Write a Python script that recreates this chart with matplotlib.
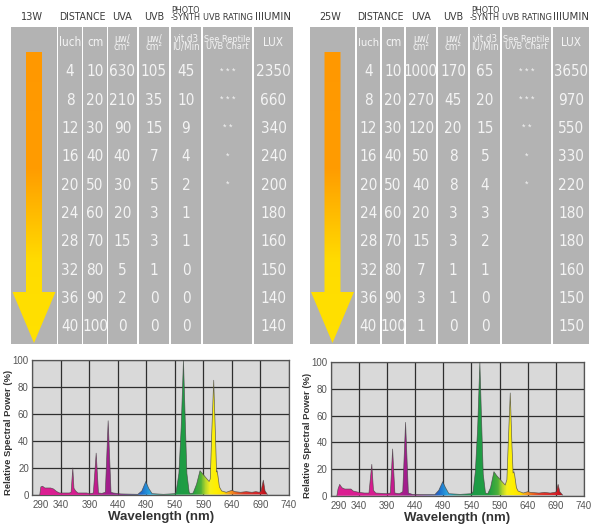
import os
import numpy as np
import matplotlib
matplotlib.use("Agg")
import matplotlib.pyplot as plt
from matplotlib.patches import Rectangle, Polygon
from matplotlib.colors import LinearSegmentedColormap
from matplotlib import font_manager
from matplotlib.font_manager import FontProperties

# ---------------- data ----------------
luch = [4, 8, 12, 16, 20, 24, 28, 32, 36, 40]
cm_dist = [10, 20, 30, 40, 50, 60, 70, 80, 90, 100]

uva_13 = [630, 210, 90, 40, 30, 20, 15, 5, 2, 0]
uvb_13 = [105, 35, 15, 7, 5, 3, 3, 1, 0, 0]
vitd_13 = [45, 10, 9, 4, 2, 1, 1, 0, 0, 0]
rating_13 = ["* * *", "* * *", "* *", "*", "*", "", "", "", "", ""]
lux_13 = [2350, 660, 340, 240, 200, 180, 160, 150, 140, 140]

uva_25 = [1000, 270, 120, 50, 40, 20, 15, 7, 3, 1]
uvb_25 = [170, 45, 20, 8, 8, 3, 3, 1, 1, 0]
vitd_25 = [65, 20, 15, 5, 4, 3, 2, 1, 0, 0]
rating_25 = ["* * *", "* * *", "* *", "*", "*", "", "", "", "", ""]
lux_25 = [3650, 970, 550, 330, 220, 180, 180, 160, 150, 150]

headers = ["DISTANCE", "UVA", "UVB", "PHOTO\n-SYNTH", "UVB RATING", "IIIUMIN"]
units = ["luch", "cm", "μw/\ncm²", "μw/\ncm²", "vit.d3\nIU/Min", "See Reptile\nUVB Chart", "LUX"]

wl_13 = [303, 305, 308, 312, 322, 327, 333, 338, 355, 358, 361, 363, 366, 370, 385, 392,
         397, 402, 406, 412, 418, 423, 428, 432, 445, 475, 482, 489, 494, 500, 520, 540,
         542, 547, 551, 555, 558.5, 561, 565, 567, 572, 578, 584, 588, 600, 602, 604.5, 608,
         611, 613, 614, 615.5, 618, 622, 630, 640, 645, 655, 665, 675, 682, 688, 691,
         695, 698, 702]
pw_13 = [0, 6, 6.5, 5.2, 5.2, 4.5, 2.5, 1.5, 1.5, 2, 20, 5, 3, 1.5, 1.5, 1,
         1.5, 31, 1.5, 1.2, 2, 55, 2, 1.5, 0.8, 0.5, 3, 10, 5, 1, 0.5, 1,
         2, 16, 50, 100, 50, 16, 2, 1, 1.5, 8, 18, 16, 10, 12, 45, 85,
         45, 17, 18, 14, 6, 3, 2, 3.5, 2.5, 2, 2.5, 2, 2.5, 2, 3,
         11, 3, 0.5]

wl_25 = [301, 303, 306, 310, 315, 326, 330, 340, 350, 358, 363, 366, 370, 390, 396,
         400, 404, 412, 418, 423, 428, 435, 450, 475, 482, 489, 494, 500, 520, 540,
         543, 547, 551, 555, 558.5, 561, 565, 569, 574, 580, 585, 600, 603, 605.5, 609,
         612, 614, 615.5, 617, 620, 623, 632, 640, 645, 660, 670, 680, 688, 691, 694,
         697, 702]
pw_25 = [0, 5, 8.5, 6, 5, 5, 3.5, 2.5, 2, 2, 23.5, 4, 2, 1.5, 2,
         35, 2, 1.5, 3, 55, 2, 1, 0.8, 0.8, 4, 10.5, 6, 1.5, 1, 1.5,
         3, 18, 50, 100, 50, 16, 2, 1.5, 6, 18, 15, 8, 12, 40, 77,
         38, 17, 18, 15, 6, 3.5, 2, 3, 2.5, 2, 2.5, 2, 2.5, 3, 8.5,
         3, 0.5]

x_ticks = [290, 340, 390, 440, 490, 540, 590, 640, 690, 740]
y_ticks = [0, 20, 40, 60, 80, 100]

# ---------------- fonts ----------------
avail = {f.name for f in font_manager.fontManager.ttflist}
sans = "Liberation Sans" if "Liberation Sans" in avail else "DejaVu Sans"


def find_condensed():
    prefs = ["LiberationSansNarrow-Regular", "DejaVuSansCondensed.", "NotoSans-Condensed.",
             "NotoSans-SemiCondensed.", "OpenSans-CondensedRegular", "OpenSans_Condensed-Regular",
             "RobotoCondensed-Regular", "Roboto_Condensed-Regular", "OpenSans-SemiCondensed"]
    files = [f.fname for f in font_manager.fontManager.ttflist]
    for p in prefs:
        for fn in files:
            if os.path.basename(fn).startswith(p):
                return FontProperties(fname=fn)
    for f in font_manager.fontManager.ttflist:
        nm = (f.name + os.path.basename(f.fname)).lower()
        if ("condensed" in nm or "narrow" in nm or f.stretch in ("condensed", "semi-condensed")) \
                and f.style == "normal" and f.weight in (400, "normal", "regular") \
                and "bold" not in nm and "light" not in nm:
            return FontProperties(fname=f.fname)
    return FontProperties(family=sans)


COND = find_condensed()

GRAY = "#b3b3b3"
TXT = "#f4f4f4"
HDR = "#3a3a3a"

fig = plt.figure(figsize=(6, 5.28), dpi=100)
fig.patch.set_facecolor("white")
bg = fig.add_axes([0, 0, 1, 1])
bg.set_xlim(0, 600)
bg.set_ylim(528, 0)
bg.axis("off")

fit_list = []


def ctext(x, y, s, size, color, maxw, **kw):
    fp = COND.copy()
    fp.set_size(size)
    t = bg.text(x, y, s, ha="center", va="center", color=color, fontproperties=fp, **kw)
    fit_list.append((t, maxw))
    return t


arrow_cmap = LinearSegmentedColormap.from_list(
    "arr", [(0.0, "#ff9800"), (0.4, "#ff9c00"), (0.6, "#ffc400"), (0.72, "#ffdc00"), (1.0, "#ffe100")])


def draw_table(cols, watt, uva, uvb, vitd, rating, lux):
    top, bot = 27, 344
    for (a, b) in cols:
        bg.add_patch(Rectangle((a, top), b - a, bot - top, facecolor=GRAY, edgecolor="none"))
    cx = [(a + b) / 2 for a, b in cols]
    cw = [b - a for a, b in cols]
    # header
    ctext(cx[0] - 2, 17.5, watt, 9, HDR, 22)
    hx = [(cols[1][0] + cols[2][1]) / 2, cx[3], cx[4], cx[5], cx[6], cx[7]]
    hw = [47, 20, 20, 31, 50, 36]
    for h, x, w in zip(headers, hx, hw):
        if "\n" in h:
            ctext(x, 14, h, 6.5, HDR, w, linespacing=0.85)
        else:
            ctext(x, 17.5, h, 9, HDR, w)
    # units
    for u, x, w in zip(units, cx[1:], cw[1:]):
        if "\n" in u:
            ctext(x, 43, u, 7, TXT, w - 2, linespacing=0.85)
        else:
            ctext(x, 43, u, 8.5, TXT, w - 2)
    # rows
    for i in range(len(luch)):
        y = 72 + i * 28.3
        vals = [luch[i], cm_dist[i], uva[i], uvb[i], vitd[i]]
        for v, x, w in zip(vals, cx[1:6], cw[1:6]):
            ctext(x, y, str(v), 11, TXT, w + 4)
        if rating[i]:
            bg.text(cx[6], y - 1, rating[i], ha="center", va="center", fontsize=6.5,
                    color=TXT, family=sans)
        ctext(cx[7], y, str(lux[i]), 11, TXT, cw[7] - 2)
    # arrow
    c = cx[0]
    pts = [(c - 8, 52), (c + 8, 52), (c + 8, 292), (c + 21.5, 292), (c, 343),
           (c - 21.5, 292), (c - 8, 292)]
    poly = Polygon(pts, closed=True, facecolor="none", edgecolor="none")
    bg.add_patch(poly)
    grad = np.linspace(0, 1, 256).reshape(-1, 1)
    im = bg.imshow(grad, cmap=arrow_cmap, extent=(c - 22, c + 22, 343, 52),
                   aspect="auto", zorder=2)
    im.set_clip_path(poly)
    bg.set_xlim(0, 600)
    bg.set_ylim(528, 0)


draw_table([(11, 57), (58, 82), (83, 107), (108, 137), (139, 169), (171, 201), (203, 252), (254, 293)],
           "13W", uva_13, uvb_13, vitd_13, rating_13, lux_13)
draw_table([(310, 355), (357, 380), (382, 404), (406, 436), (438, 468), (470, 500), (502, 551), (553, 589)],
           "25W", uva_25, uvb_25, vitd_25, rating_25, lux_25)

spec_cmap = LinearSegmentedColormap.from_list("spec", [
    ((290 - 290) / 450, "#de1f93"),
    ((375 - 290) / 450, "#d61c90"),
    ((400 - 290) / 450, "#c41b8e"),
    ((420 - 290) / 450, "#a51d8d"),
    ((445 - 290) / 450, "#8e1f8c"),
    ((470 - 290) / 450, "#3f4fb0"),
    ((482 - 290) / 450, "#1e6fcc"),
    ((497 - 290) / 450, "#29a6e0"),
    ((515 - 290) / 450, "#24a07a"),
    ((540 - 290) / 450, "#1c9a48"),
    ((572 - 290) / 450, "#22a040"),
    ((586 - 290) / 450, "#4caf3a"),
    ((594 - 290) / 450, "#b4d62c"),
    ((602 - 290) / 450, "#f6ef1c"),
    ((612 - 290) / 450, "#fff000"),
    ((626 - 290) / 450, "#ffe000"),
    ((636 - 290) / 450, "#f7a21e"),
    ((648 - 290) / 450, "#ec6622"),
    ((662 - 290) / 450, "#e03a2a"),
    ((688 - 290) / 450, "#d8222a"),
    ((698 - 290) / 450, "#c0141c"),
    (1.0, "#b01018"),
])


def draw_spec(rect, wl, pw, ylab_y):
    ax = fig.add_axes(rect)
    ax.set_facecolor("#d9d9d9")
    ax.set_xlim(290, 740)
    ax.set_ylim(0, 100)
    ax.set_xticks(x_ticks)
    ax.set_yticks(y_ticks)
    ax.grid(True, color="#2e2e2e", lw=0.9)
    ax.set_axisbelow(True)
    for s in ax.spines.values():
        s.set_color("#555555")
        s.set_linewidth(0.9)
    ax.tick_params(length=0, labelsize=7, labelcolor="#555555")
    ax.tick_params(axis="x", pad=3.5)
    ax.tick_params(axis="y", pad=2.5)
    for lab in ax.get_xticklabels() + ax.get_yticklabels():
        lab.set_family(sans)
    ax.get_xticklabels()[0].set_horizontalalignment("left")
    poly = Polygon(list(zip(wl, pw)), closed=True, facecolor="none", edgecolor="none")
    ax.add_patch(poly)
    grad = np.linspace(0, 1, 900).reshape(1, -1)
    im = ax.imshow(grad, cmap=spec_cmap, extent=(290, 740, 0, 100), aspect="auto", zorder=3)
    im.set_clip_path(poly)
    ax.plot(wl, pw, color="#444444", lw=0.5, alpha=0.8, zorder=4)
    ax.set_xlim(290, 740)
    ax.set_ylim(0, 100)
    ax.set_xlabel("Wavelength (nm)", fontsize=9.5, fontweight="bold", color="#333333",
                  family=sans, labelpad=1)
    ax.set_ylabel("Relative Spectral Power (%)", fontsize=6.8, fontweight="bold",
                  color="#333333", family=sans)
    ax.yaxis.set_label_coords(-0.075, ylab_y)
    return ax


draw_spec([32.3 / 600, (528 - 495) / 528, (289 - 32.3) / 600, 135 / 528], wl_13, pw_13, 0.46)
draw_spec([330.7 / 600, (528 - 495.7) / 528, (584 - 330.7) / 600, 133.4 / 528], wl_25, pw_25, 0.455)

# shrink any table text that is wider than its cell
renderer = fig.canvas.get_renderer()
for t, maxw in fit_list:
    w = t.get_window_extent(renderer).width
    if w > maxw:
        t.set_fontsize(t.get_fontsize() * maxw / w)

fig.savefig("out.png", dpi=100, facecolor="white")
